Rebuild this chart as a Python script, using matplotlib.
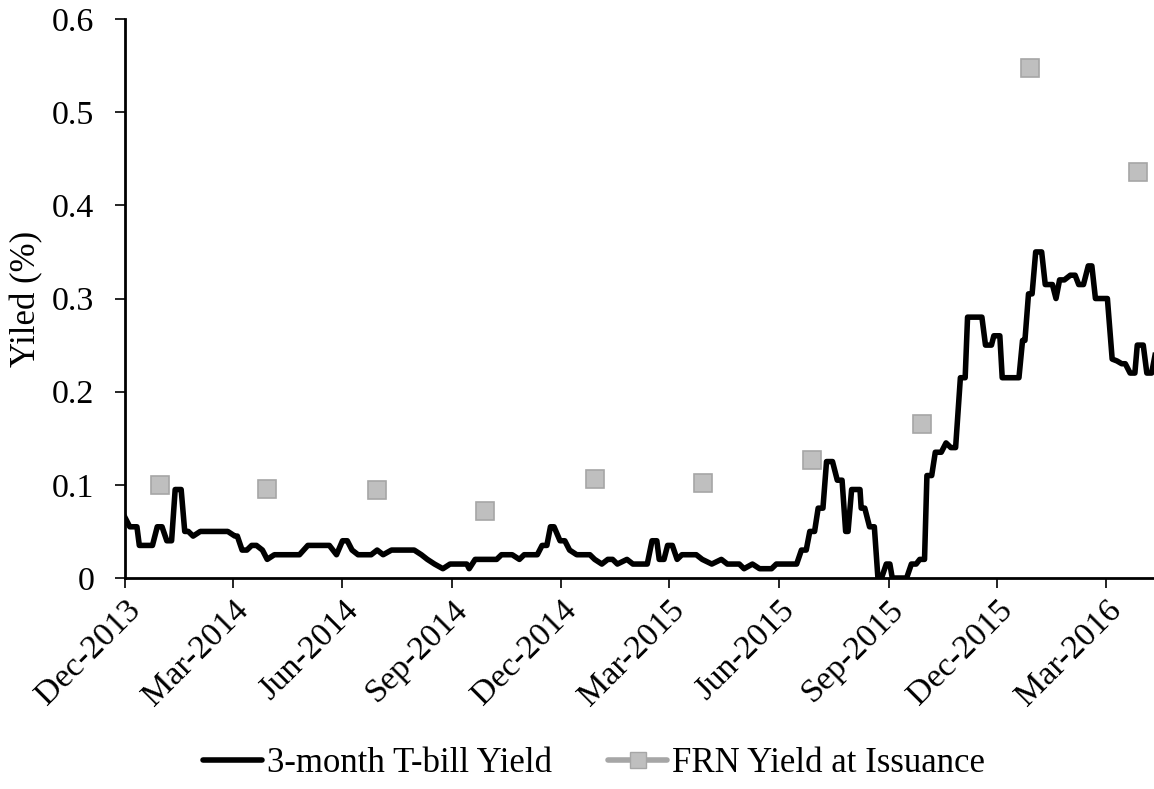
"""
T-bill yield vs FRN yield at issuance, Dec-2013 .. Apr-2016.
"""

import matplotlib
matplotlib.use("Agg")
import matplotlib.pyplot as plt
import matplotlib.dates as mdates
from matplotlib.lines import Line2D
import pandas as pd

# ----------------------------- data --------------------------------------- #

# 3-month T-bill yield (%), breakpoints
tbill_dates = [
    "2013-12-01", "2013-12-05", "2013-12-11", "2013-12-13", "2013-12-24", "2013-12-28",
    "2014-01-01", "2014-01-05", "2014-01-09", "2014-01-12", "2014-01-17", "2014-01-20",
    "2014-01-23", "2014-01-27", "2014-02-02", "2014-02-25", "2014-03-03", "2014-03-05",
    "2014-03-09", "2014-03-13", "2014-03-17", "2014-03-21", "2014-03-26", "2014-03-30",
    "2014-04-05", "2014-04-26", "2014-05-03", "2014-05-21", "2014-05-27", "2014-06-01",
    "2014-06-05", "2014-06-09", "2014-06-14", "2014-06-25", "2014-06-30", "2014-07-05",
    "2014-07-12", "2014-07-31", "2014-08-06", "2014-08-11", "2014-08-17", "2014-08-24",
    "2014-08-30", "2014-09-13", "2014-09-15", "2014-09-20", "2014-10-08", "2014-10-12",
    "2014-10-21", "2014-10-27", "2014-10-31", "2014-11-11", "2014-11-15", "2014-11-19",
    "2014-11-22", "2014-11-25", "2014-11-30", "2014-12-04", "2014-12-08", "2014-12-14",
    "2014-12-25", "2014-12-29", "2015-01-04", "2015-01-09", "2015-01-13", "2015-01-17",
    "2015-01-25", "2015-01-30", "2015-02-11", "2015-02-15", "2015-02-19", "2015-02-21",
    "2015-02-25", "2015-02-28", "2015-03-04", "2015-03-08", "2015-03-12", "2015-03-24",
    "2015-03-29", "2015-04-06", "2015-04-14", "2015-04-19", "2015-04-29", "2015-05-03",
    "2015-05-10", "2015-05-16", "2015-05-26", "2015-05-30", "2015-06-16", "2015-06-20",
    "2015-06-24", "2015-06-27", "2015-07-01", "2015-07-04", "2015-07-08", "2015-07-11",
    "2015-07-16", "2015-07-20", "2015-07-24", "2015-07-27", "2015-07-29", "2015-08-01",
    "2015-08-08", "2015-08-09", "2015-08-12", "2015-08-16", "2015-08-20", "2015-08-23",
    "2015-08-26", "2015-08-30", "2015-09-02", "2015-09-04", "2015-09-16", "2015-09-20",
    "2015-09-24", "2015-09-27", "2015-10-01", "2015-10-03", "2015-10-07", "2015-10-10",
    "2015-10-15", "2015-10-19", "2015-10-23", "2015-10-27", "2015-10-31", "2015-11-04",
    "2015-11-06", "2015-11-18", "2015-11-21", "2015-11-26", "2015-11-28", "2015-12-03",
    "2015-12-05", "2015-12-19", "2015-12-22", "2015-12-24", "2015-12-27", "2015-12-30",
    "2016-01-02", "2016-01-07", "2016-01-10", "2016-01-16", "2016-01-19", "2016-01-22",
    "2016-01-26", "2016-01-31", "2016-02-04", "2016-02-07", "2016-02-11", "2016-02-15",
    "2016-02-18", "2016-02-21", "2016-03-02", "2016-03-06", "2016-03-10", "2016-03-14",
    "2016-03-17", "2016-03-21", "2016-03-25", "2016-03-27", "2016-04-01", "2016-04-04",
    "2016-04-08", "2016-04-11",
]
tbill_yield = [
    0.065, 0.055, 0.055, 0.035, 0.035, 0.055,
    0.055, 0.040, 0.040, 0.095, 0.095, 0.050,
    0.050, 0.045, 0.050, 0.050, 0.045, 0.045,
    0.030, 0.030, 0.035, 0.035, 0.030, 0.020,
    0.025, 0.025, 0.035, 0.035, 0.025, 0.040,
    0.040, 0.030, 0.025, 0.025, 0.030, 0.025,
    0.030, 0.030, 0.025, 0.020, 0.015, 0.010,
    0.015, 0.015, 0.010, 0.020, 0.020, 0.025,
    0.025, 0.020, 0.025, 0.025, 0.035, 0.035,
    0.055, 0.055, 0.040, 0.040, 0.030, 0.025,
    0.025, 0.020, 0.015, 0.020, 0.020, 0.015,
    0.020, 0.015, 0.015, 0.040, 0.040, 0.020,
    0.020, 0.035, 0.035, 0.020, 0.025, 0.025,
    0.020, 0.015, 0.020, 0.015, 0.015, 0.010,
    0.015, 0.010, 0.010, 0.015, 0.015, 0.030,
    0.030, 0.050, 0.050, 0.075, 0.075, 0.125,
    0.125, 0.105, 0.105, 0.050, 0.050, 0.095,
    0.095, 0.075, 0.075, 0.055, 0.055, 0.000,
    0.000, 0.015, 0.015, 0.000, 0.000, 0.015,
    0.015, 0.020, 0.020, 0.110, 0.110, 0.135,
    0.135, 0.145, 0.140, 0.140, 0.215, 0.215,
    0.280, 0.280, 0.250, 0.250, 0.260, 0.260,
    0.215, 0.215, 0.255, 0.255, 0.305, 0.305,
    0.350, 0.350, 0.315, 0.315, 0.300, 0.320,
    0.320, 0.325, 0.325, 0.315, 0.315, 0.335,
    0.335, 0.300, 0.300, 0.235, 0.233, 0.230,
    0.230, 0.220, 0.220, 0.250, 0.250, 0.220,
    0.220, 0.240,
]

# FRN yield at issuance (%), quarterly
frn_dates = [
    "2013-12-30", "2014-03-30", "2014-06-30", "2014-09-28", "2014-12-29",
    "2015-03-30", "2015-06-29", "2015-09-29", "2015-12-28", "2016-03-28",
]
frn_yield = [0.100, 0.096, 0.094, 0.072, 0.106, 0.102, 0.127, 0.165, 0.547, 0.436]

x_start = "2013-12-01"
x_end = "2016-04-10"

# ----------------------------- plot --------------------------------------- #

plt.rcParams["font.family"] = ["Liberation Serif", "DejaVu Serif"]

fig = plt.figure(figsize=(11.54, 7.89), dpi=100)
ax = fig.add_axes([0.1083, 0.2674, 0.8917, 0.7085])

tb_x = pd.to_datetime(tbill_dates)
frn_x = pd.to_datetime(frn_dates)

ax.plot(tb_x, tbill_yield, color="black", linewidth=4.0, solid_joinstyle="round",
        zorder=3)
ax.plot(frn_x, frn_yield, linestyle="none", marker="s", markersize=12.5,
        markerfacecolor="#bfbfbf", markeredgecolor="#a6a6a6", markeredgewidth=1.2,
        zorder=2)

ax.set_xlim(pd.Timestamp(x_start), pd.Timestamp(x_end))
ax.set_ylim(0, 0.6)
ax.set_yticks([0, 0.1, 0.2, 0.3, 0.4, 0.5, 0.6])
ax.set_yticklabels(["0", "0.1", "0.2", "0.3", "0.4", "0.5", "0.6"])

ax.xaxis.set_major_locator(mdates.MonthLocator(bymonth=[3, 6, 9, 12], bymonthday=1))
ax.xaxis.set_major_formatter(mdates.DateFormatter("%b-%Y"))
plt.setp(ax.get_xticklabels(), rotation=45, ha="right", va="top",
         rotation_mode="anchor")

for side in ("top", "right"):
    ax.spines[side].set_visible(False)
for side in ("left", "bottom"):
    ax.spines[side].set_linewidth(2.0)

ax.tick_params(axis="both", direction="out", length=7, width=1.2, labelsize=24.5)
ax.tick_params(axis="y", pad=15)
ax.tick_params(axis="x", pad=5)
ax.set_ylabel("Yiled (%)", fontsize=25, labelpad=6)

handles = [
    Line2D([], [], color="black", linewidth=4.0, solid_capstyle="round"),
    Line2D([], [], color="#a6a6a6", linewidth=4.0, marker="s", markersize=12,
           markerfacecolor="#bfbfbf", markeredgecolor="#a6a6a6", solid_capstyle="round"),
]
fig.legend(handles, ["3-month T-bill Yield", "FRN Yield at Issuance"],
           loc="center left", bbox_to_anchor=(0.149, 0.032), ncol=2, frameon=False,
           fontsize=25, handlelength=1.7, handletextpad=0.15, columnspacing=1.6)

fig.savefig("out.png", dpi=100)
